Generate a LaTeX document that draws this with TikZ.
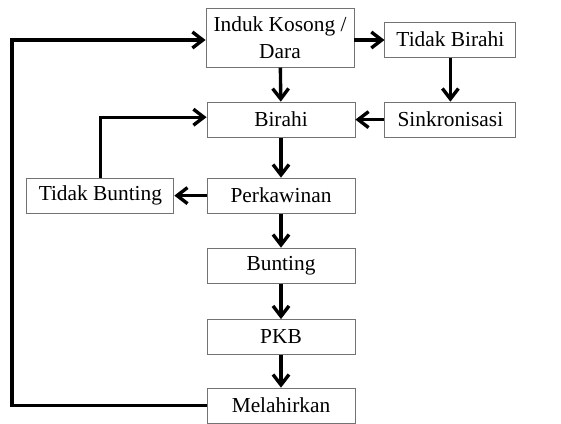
\documentclass[tikz,border=0pt]{standalone}
\usepackage{fontspec}
\setmainfont{Liberation Serif}
\usetikzlibrary{arrows.meta}
\tikzstyle{tahap} = [rectangle, minimum width=3.7cm, minimum height=0.875cm, text centered, draw=black!55, line width=0.6pt, fill=white, font=\fontsize{15.2}{19}\selectfont]
\tikzstyle{panah} = [line width=2.4pt, -{Straight Barb[length=2.6mm,width=4mm,line width=2.4pt]}]

\begin{document}
\begin{tikzpicture}
    \useasboundingbox (0,0) rectangle (14.025,-10.6);
        \node[tahap, minimum height=1.475cm, align=center] (induk) at (7.0,-0.94) {Induk Kosong /\\Dara};
        \node[tahap, minimum width=3.275cm] (tbirahi) at (11.26,-0.99) {Tidak Birahi};
        \node[tahap] (birahi) at (7.025,-2.99) {Birahi};
        \node[tahap, minimum width=3.275cm] (sinkron) at (11.26,-2.99) {Sinkronisasi};
        \node[tahap, minimum width=3.675cm] (tbunting) at (2.51,-4.89) {Tidak Bunting};
        \node[tahap] (kawin) at (7.025,-4.89) {Perkawinan};
        \node[tahap] (bunting) at (7.025,-6.64) {Bunting};
        \node[tahap] (pkb) at (7.025,-8.425) {PKB};
        \node[tahap] (lahir) at (7.025,-10.14) {Melahirkan};
        \coordinate (kiri) at (0.3,0);
        \coordinate (indukkanan) at ([yshift=-0.06cm]induk.east);
        \coordinate (indukkiri) at ([yshift=-0.06cm]induk.west);
        \coordinate (birahikiri) at ([yshift=0.06cm]birahi.west);
    \begin{scope}[panah]
        \draw (indukkanan) -- (indukkanan -| tbirahi.west);
        \draw (tbirahi) -- (sinkron);
        \draw (sinkron) -- (birahi);
        \draw (induk) -- (birahi);
        \draw (birahi) -- (kawin);
        \draw (kawin) -- (tbunting);
        \draw (kawin) -- (bunting);
        \draw (bunting) -- (pkb);
        \draw (pkb) -- (lahir);
        \draw (tbunting.north) |- (birahikiri);
        \draw (lahir.west) -- (lahir.west -| kiri) |- (indukkiri);
    \end{scope}
    \end{tikzpicture}
\end{document}
